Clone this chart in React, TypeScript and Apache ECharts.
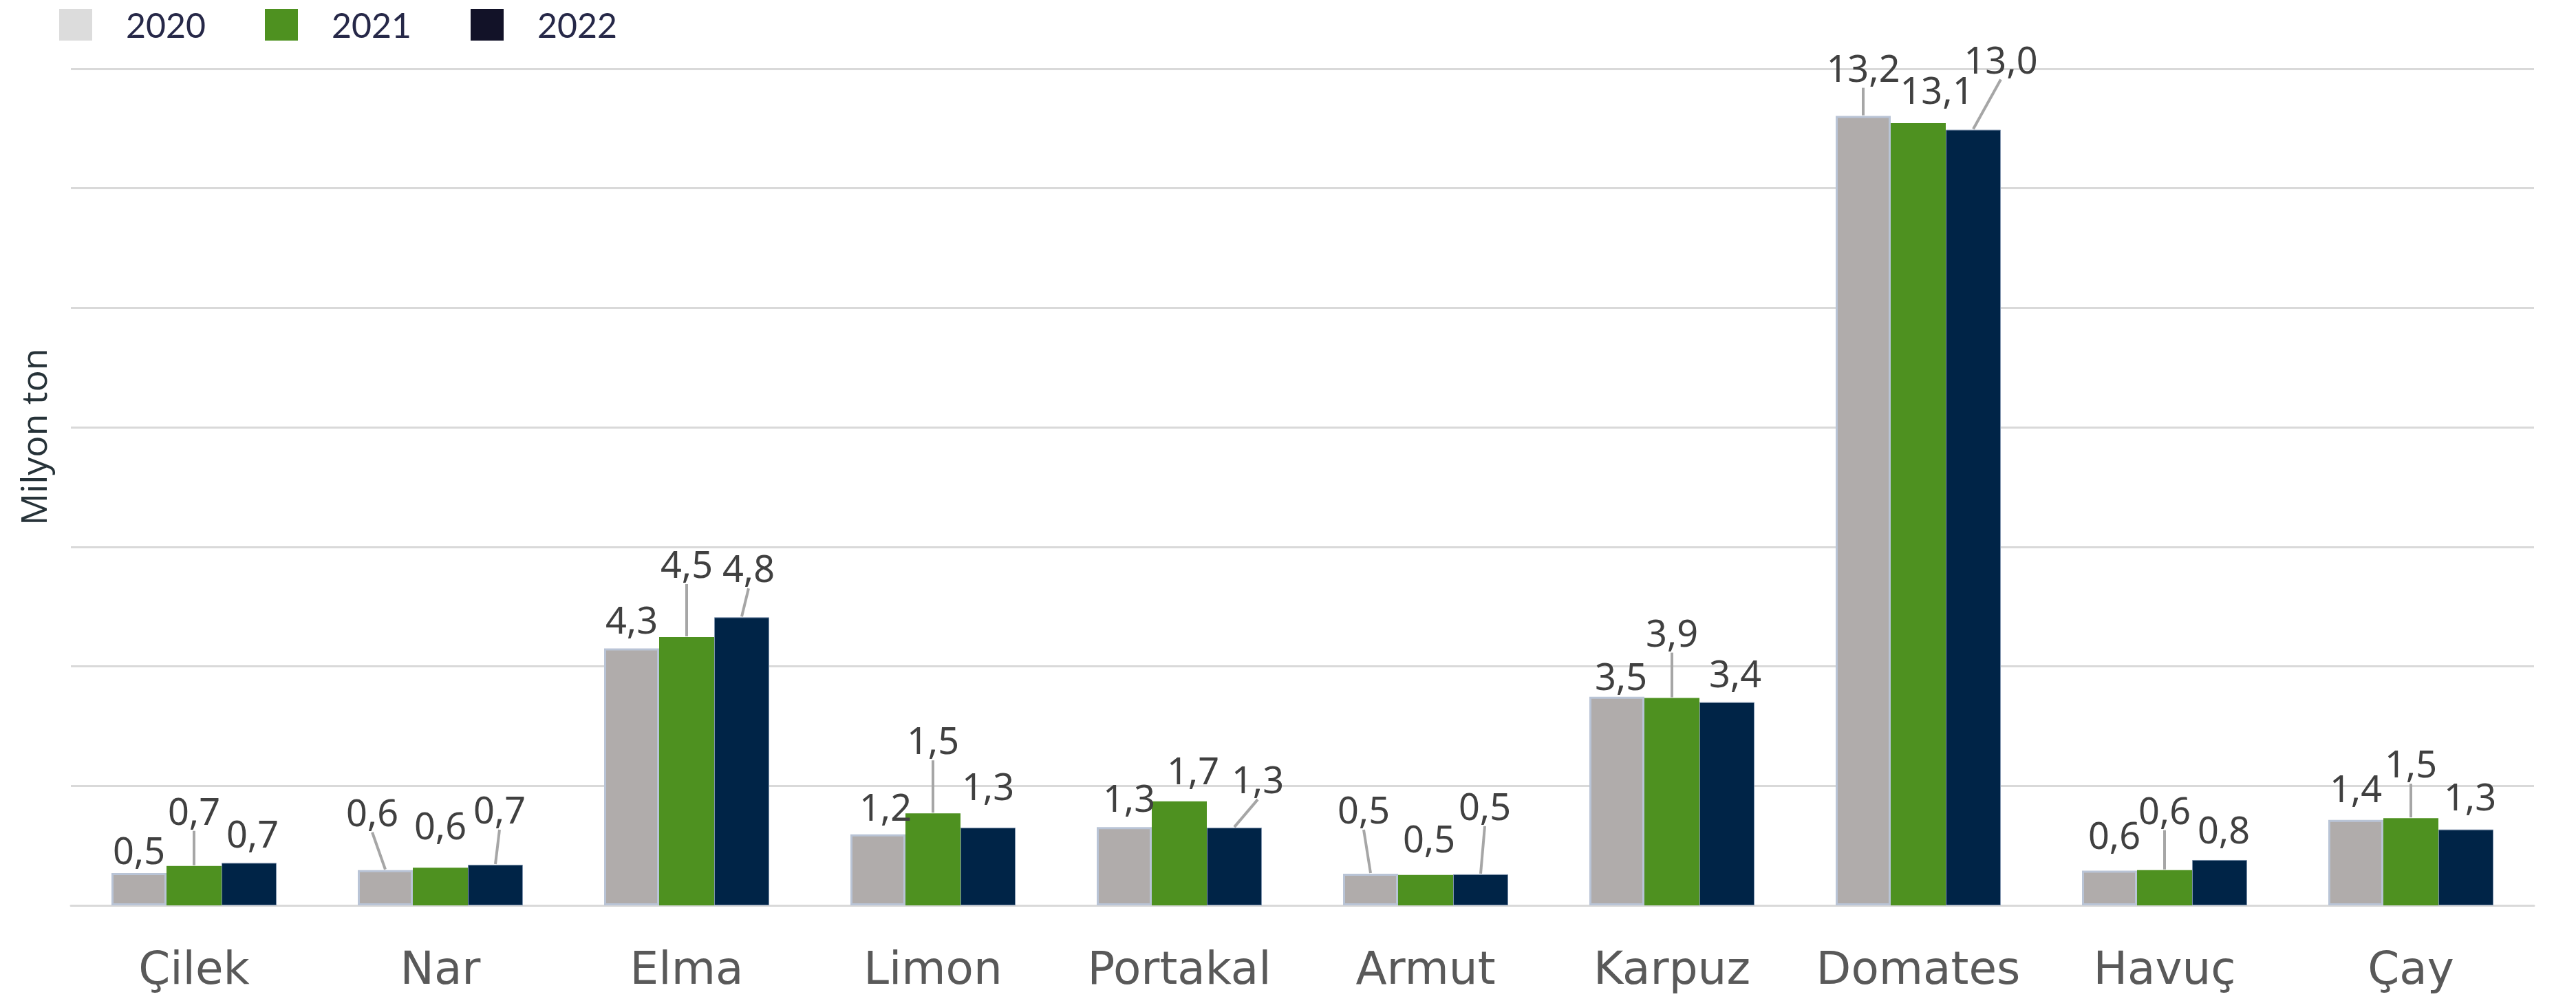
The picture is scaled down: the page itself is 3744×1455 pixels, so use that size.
import React, { useEffect, useRef } from "react";
import * as echarts from "echarts";

// ---- Data ----
const categories = ["Çilek", "Nar", "Elma", "Limon", "Portakal", "Armut", "Karpuz", "Domates", "Havuç", "Çay"];
const years = ["2020", "2021", "2022"];
const values2020 = [0.54, 0.59, 4.3, 1.19, 1.31, 0.53, 3.49, 13.21, 0.58, 1.43];
const values2021 = [0.66, 0.63, 4.49, 1.54, 1.74, 0.51, 3.47, 13.09, 0.59, 1.46];
const values2022 = [0.71, 0.68, 4.82, 1.3, 1.3, 0.52, 3.4, 12.98, 0.76, 1.27];
const labels2020 = ["0,5", "0,6", "4,3", "1,2", "1,3", "0,5", "3,5", "13,2", "0,6", "1,4"];
const labels2021 = ["0,7", "0,6", "4,5", "1,5", "1,7", "0,5", "3,9", "13,1", "0,6", "1,5"];
const labels2022 = ["0,7", "0,7", "4,8", "1,3", "1,3", "0,5", "3,4", "13,0", "0,8", "1,3"];
const yAxisName = "Milyon ton";
const yMin = 0;
const yMax = 14;
const yInterval = 2;

// ---- Label placement (style only: pixel nudges of the data labels) ----
const labelShift: [number, number][][] = [
  [[0, -7], [-19, -58], [0, -16], [11, -14], [7, -16], [-10, -67], [6, -4], [0, -44], [7, -26], [0, -20]],
  [[0, -54], [0, -35], [0, -80], [0, -80], [20, -19], [5, -27], [0, -69], [27, -22], [0, -61], [0, -53]],
  [[5, -16], [6, -54], [10, -45], [0, -34], [34, -44], [6, -73], [12, -16], [40, -76], [6, -18], [6, -22]],
];
const leader: boolean[][] = [
  [false, true, false, false, false, true, false, true, false, false],
  [true, false, true, true, false, false, true, false, true, true],
  [false, true, true, false, true, true, false, true, false, false],
];

const BAR_WIDTH = 80;
const barColors = ["#b0acab", "#4e9120", "#002447"];
const legendColors = ["#dcdcdc", "#4e9120", "#121228"];

export default function App() {
  const ref = useRef<HTMLDivElement>(null);

  useEffect(() => {
    if (!ref.current) return;
    const chart = echarts.init(ref.current, undefined, { renderer: "svg" });
    const valueSets = [values2020, values2021, values2022];
    const labelSets = [labels2020, labels2021, labels2022];

    const series = years.map((y, si) => ({
      name: y,
      type: "bar",
      barWidth: BAR_WIDTH,
      barGap: "0%",
      itemStyle: {
        color: barColors[si],
        borderColor: si === 0 ? "#b9c4d6" : si === 2 ? "#7f93ad" : "#4e9120",
        borderWidth: si === 0 ? 3 : si === 2 ? 1 : 0,
      },
      data: valueSets[si],
      label: {
        show: true,
        position: "top",
        distance: 0,
        color: "#404040",
        fontFamily: "'Noto Sans', sans-serif",
        fontSize: 54,
        formatter: (p: any) => labelSets[si][p.dataIndex],
      },
      labelLayout: (p: any) => {
        const s = labelShift[si][p.dataIndex];
        return { dx: s[0], dy: s[1] };
      },
    }));

    chart.setOption({
      animation: false,
      backgroundColor: "#ffffff",
      legend: {
        left: 81,
        top: 6,
        itemWidth: 48,
        itemHeight: 46,
        itemGap: 86,
        icon: "rect",
        selectedMode: false,
        textStyle: {
          color: "#262848",
          fontFamily: "Lato, sans-serif",
          fontSize: 50,
          padding: [0, 0, 0, 44],
        },
        data: years.map((y, i) => ({
          name: y,
          itemStyle: { color: legendColors[i], borderWidth: 0 },
        })),
      },
      grid: { left: 103, right: 61, top: 100, bottom: 139, containLabel: false },
      xAxis: {
        type: "category",
        data: categories,
        axisLine: { show: true, lineStyle: { color: "#d9d9d9", width: 3 } },
        axisTick: { show: false },
        axisLabel: {
          interval: 0,
          color: "#595959",
          fontFamily: "'DejaVu Sans', sans-serif",
          fontSize: 66,
          margin: 58,
        },
      },
      yAxis: {
        type: "value",
        min: yMin,
        max: yMax,
        interval: yInterval,
        name: yAxisName,
        nameLocation: "middle",
        nameRotate: 90,
        nameGap: 30,
        nameTextStyle: {
          color: "#263238",
          fontFamily: "'Open Sans', sans-serif",
          fontSize: 52,
          padding: [0, 0, 0, 146],
        },
        axisLabel: { show: false },
        axisLine: { show: false },
        axisTick: { show: false },
        splitLine: { lineStyle: { color: "#d9d9d9", width: 3 } },
      },
      series,
    });

    // Leader lines: from the (shifted) label's bottom to the bar's top centre,
    // positions obtained through the chart's own scales.
    const lines: any[] = [];
    valueSets.forEach((vals, si) => {
      vals.forEach((v, i) => {
        if (!leader[si][i]) return;
        const pt = chart.convertToPixel({ xAxisIndex: 0, yAxisIndex: 0 }, [i, v]) as number[];
        const bx = pt[0] + (si - 1) * BAR_WIDTH;
        const by = pt[1] - 1;
        const s = labelShift[si][i];
        const lx = bx + s[0];
        const ly = by + s[1] + 4;
        lines.push({
          type: "line",
          silent: true,
          z: 10,
          shape: { x1: lx, y1: ly, x2: bx, y2: by },
          style: { stroke: "#a6a6a6", lineWidth: 4 },
        });
      });
    });
    chart.setOption({ graphic: lines });

    return () => chart.dispose();
  }, []);

  return (
    <div
      ref={ref}
      style={{ position: "fixed", left: 0, top: 0, width: 3744, height: 1455, background: "#fff" }}
    />
  );
}
